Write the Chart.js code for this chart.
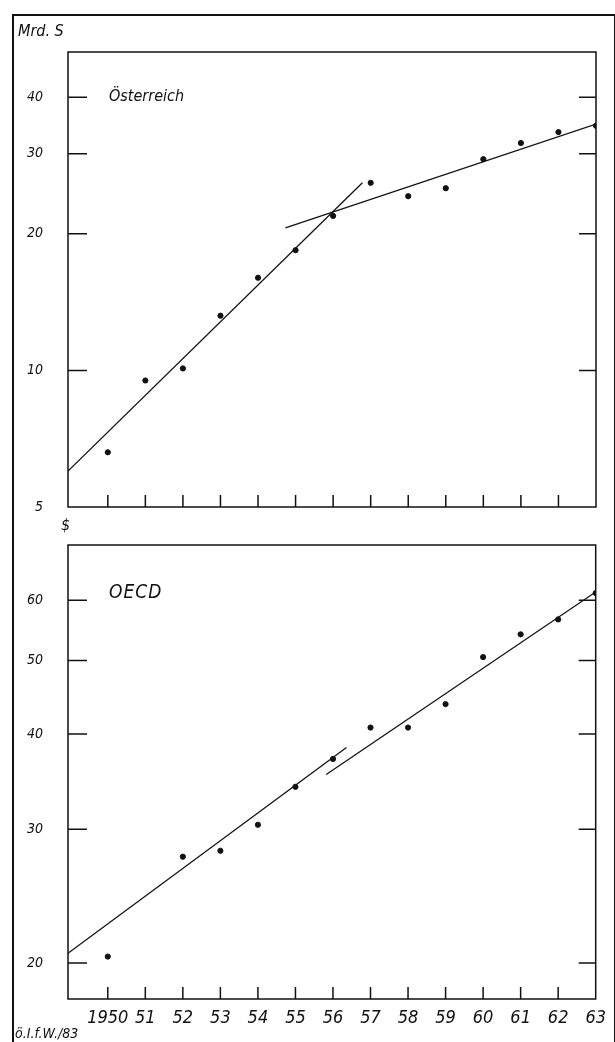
<!DOCTYPE HTML>
<html lang="de">
<head>
<meta charset="UTF-8">
<title>Österreich / OECD</title>
<script src="https://cdn.jsdelivr.net/npm/chart.js@4.4.0/dist/chart.umd.min.js"></script>
<style>
body { margin:0; background:#fff; }
#page { position:relative; width:615px; height:1042px; overflow:hidden;
        font-family:"DejaVu Sans Condensed","DejaVu Sans",sans-serif; font-style:italic; color:#111; }
#frame { position:absolute; left:12px; top:14px; width:600px; height:1040px; border:2px solid #111; border-bottom:none; }
.lbl { position:absolute; white-space:nowrap; }
canvas { position:absolute; left:0; }
</style>
</head>
<body>
<div id="page">
    <div id="frame"></div>
    <canvas id="chartAT" width="615" height="541" style="top:0"></canvas>
    <canvas id="chartOECD" width="615" height="531" style="top:511px"></canvas>
    <div class="lbl" style="left:18px;top:21px;font-size:16px">Mrd. S</div>
    <div class="lbl" style="left:109px;top:86px;font-size:16px">Österreich</div>
    <div class="lbl" style="left:61px;top:515px;font-size:16px">$</div>
    <div class="lbl" style="left:109px;top:580px;font-size:19px;letter-spacing:1px">OECD</div>
    <div class="lbl" style="left:15px;top:1025px;font-size:14px">ö.I.f.W./83</div>
</div>

<script>
// Jahre und Beschriftung der x-Achse
var years = [1950, 1951, 1952, 1953, 1954, 1955, 1956, 1957, 1958, 1959, 1960, 1961, 1962, 1963];
var yearLabels = ['1950', '51', '52', '53', '54', '55', '56', '57', '58', '59', '60', '61', '62', '63'];
var yearRange = [1948.94, 1963];

// Österreich, Mrd. S
var austria = [6.6, 9.5, 10.1, 13.2, 16.0, 18.4, 21.9, 25.9, 24.2, 25.2, 29.2, 31.7, 33.5, 34.6];
var austriaTicks = [5, 10, 20, 30, 40];
var austriaRange = [5, 50.3];
var austriaTrendAx = [1948.94, 1956.78];
var austriaTrendAy = [6.0, 25.9];
var austriaTrendBx = [1954.73, 1963];
var austriaTrendBy = [20.6, 34.9];

// OECD, Mrd. $
var oecd = [20.4, null, 27.6, 28.1, 30.4, 34.1, 37.1, 40.8, 40.8, 43.8, 50.5, 54.1, 56.6, 61.3];
var oecdTicks = [20, 30, 40, 50, 60];
var oecdRange = [17.94, 70.9];
var oecdTrendAx = [1948.94, 1956.36];
var oecdTrendAy = [20.6, 38.4];
var oecdTrendBx = [1955.82, 1963];
var oecdTrendBy = [35.4, 61.5];

var ink = '#111';
var fontFamily = '"DejaVu Sans Condensed", "DejaVu Sans", sans-serif';

function toPoints(xs, ys) {
    var pts = [];
    for (var i = 0; i < xs.length; i++) {
        if (ys[i] !== null) pts.push({x: xs[i], y: ys[i]});
    }
    return pts;
}

// Rahmen und nach innen gerichtete Teilstriche
var frameTicks = {
    id: 'frameTicks',
    afterDraw: function(chart) {
        var ctx = chart.ctx;
        var a = chart.chartArea;
        var xs = chart.scales.x, ys = chart.scales.y;
        ctx.save();
        ctx.strokeStyle = ink;
        ctx.lineWidth = 1.5;
        ctx.strokeRect(a.left, a.top, a.right - a.left, a.bottom - a.top);
        ctx.beginPath();
        ys.ticks.forEach(function(t) {
            var y = ys.getPixelForValue(t.value);
            if (y > a.bottom - 2) return;
            ctx.moveTo(a.left, y); ctx.lineTo(a.left + 19, y);
            ctx.moveTo(a.right - 17, y); ctx.lineTo(a.right, y);
        });
        xs.ticks.forEach(function(t) {
            var x = xs.getPixelForValue(t.value);
            if (x > a.right - 2) return;
            ctx.moveTo(x, a.bottom); ctx.lineTo(x, a.bottom - 12);
        });
        ctx.stroke();
        ctx.restore();
    }
};

function makeChart(id, values, trendA, trendB, yTicks, yRange, showYears, pad) {
    return new Chart(document.getElementById(id), {
        type: 'scatter',
        data: {
            datasets: [{
                data: toPoints(years, values),
                backgroundColor: ink,
                borderColor: ink,
                pointRadius: 2.6,
                pointHoverRadius: 2.6
            }, {
                data: toPoints(trendA[0], trendA[1]),
                showLine: true,
                borderColor: ink,
                borderWidth: 1.3,
                pointRadius: 0
            }, {
                data: toPoints(trendB[0], trendB[1]),
                showLine: true,
                borderColor: ink,
                borderWidth: 1.3,
                pointRadius: 0
            }]
        },
        options: {
            responsive: false,
            animation: false,
            events: [],
            layout: { padding: pad },
            plugins: { legend: { display: false }, tooltip: { enabled: false } },
            scales: {
                x: {
                    type: 'linear',
                    min: yearRange[0],
                    max: yearRange[1],
                    grid: { display: false, drawTicks: false },
                    border: { display: false },
                    afterBuildTicks: function(scale) {
                        scale.ticks = years.map(function(v) { return {value: v}; });
                    },
                    afterFit: function(scale) { scale.height = showYears ? 43 : 0; },
                    ticks: {
                        display: showYears,
                        color: ink,
                        padding: 9,
                        maxRotation: 0,
                        autoSkip: false,
                        font: { family: fontFamily, size: 18, style: 'italic' },
                        callback: function(v, i) { return yearLabels[i]; }
                    }
                },
                y: {
                    type: 'logarithmic',
                    min: yRange[0],
                    max: yRange[1],
                    grid: { display: false, drawTicks: false },
                    border: { display: false },
                    afterBuildTicks: function(scale) {
                        scale.ticks = yTicks.map(function(v) { return {value: v}; });
                    },
                    afterFit: function(scale) { scale.width = 68; },
                    ticks: {
                        color: ink,
                        padding: 25,
                        font: { family: fontFamily, size: 14, style: 'italic' },
                        callback: function(v) { return String(v); }
                    }
                }
            }
        },
        plugins: [frameTicks]
    });
}

// Schaubild oben: Fläche 68..596 x 52..507; unten: 68..598 x 545..999
makeChart('chartAT', austria, [austriaTrendAx, austriaTrendAy], [austriaTrendBx, austriaTrendBy],
    austriaTicks, austriaRange, false, {top: 52, right: 19, bottom: 34, left: 0});
makeChart('chartOECD', oecd, [oecdTrendAx, oecdTrendAy], [oecdTrendBx, oecdTrendBy],
    oecdTicks, oecdRange, true, {top: 34, right: 17, bottom: 0, left: 0});
</script>
</body>
</html>
